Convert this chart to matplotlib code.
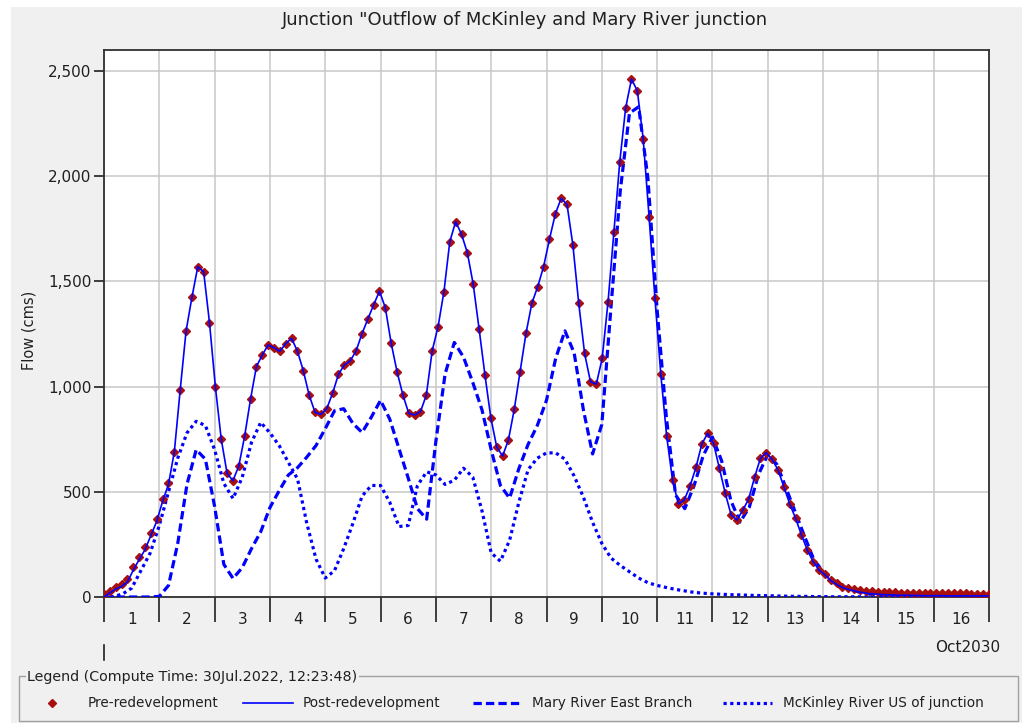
import numpy as np
import matplotlib.pyplot as plt
from matplotlib.lines import Line2D
from matplotlib.patches import Rectangle
from matplotlib.ticker import FuncFormatter, FixedLocator
from matplotlib.transforms import blended_transform_factory

# ── Junction hydrographs, Oct 2030 (flow in cms) ─────────────────────────────
# Pre/post series are stored at a constant step over 16 days
PRE_STEP_DAYS = 16 / 151
pre_flow = [
    15, 30, 49, 60, 84, 144, 192, 236, 303, 369, 464, 540, 688,
    984, 1264, 1424, 1570, 1546, 1304, 1000, 751, 588, 553, 623, 765, 940,
    1095, 1150, 1198,
    1185, 1168, 1204, 1229, 1169, 1076, 960, 878, 868, 895, 968, 1058, 1103,
    1122, 1169, 1250, 1320, 1388, 1454, 1375, 1206, 1071, 960, 873, 865, 881,
    960, 1171, 1285, 1451, 1689, 1784, 1724, 1636, 1486, 1274, 1055, 852, 714,
    670, 746, 892, 1071, 1253, 1396, 1475, 1570, 1700, 1820, 1895, 1866, 1673,
    1396, 1158, 1023, 1012, 1134, 1403, 1736, 2068, 2324, 2462, 2406, 2177,
    1807, 1420, 1060, 765, 556, 442, 461, 528, 616, 727, 778, 730, 612, 493,
    390, 366, 413, 466, 569, 659, 686, 654, 604, 524, 442, 374, 295, 223, 168,
    128, 108, 81, 65, 49,
    42, 36, 32, 29, 27, 25, 24, 23, 22, 21, 21, 20, 20, 19, 19, 18, 18, 18,
    17, 17, 17, 16, 16, 16, 15,
]
post_flow = [
    0, 20, 38, 50, 72, 128, 178, 225, 292, 360, 455, 535, 690,
    984, 1264, 1424, 1570, 1546, 1304, 1000, 751, 588, 553, 623, 765, 940,
    1095, 1150, 1198,
    1185, 1168, 1204, 1229, 1169, 1076, 960, 878, 868, 895, 968, 1058, 1103,
    1122, 1169, 1250, 1320, 1388, 1454, 1375, 1206, 1071, 960, 873, 865, 881,
    960, 1171, 1285, 1451, 1689, 1784, 1724, 1636, 1486, 1274, 1055, 852, 714,
    670, 746, 892, 1071, 1253, 1396, 1475, 1570, 1700, 1820, 1895, 1866, 1673,
    1396, 1158, 1023, 1012, 1134, 1403, 1736, 2068, 2324, 2462, 2406, 2177,
    1807, 1420, 1060, 765, 556, 442, 461, 528, 616, 727, 778, 730, 612, 493,
    390, 366, 413, 466, 569, 659, 686, 654, 604, 524, 442, 374, 295, 223, 168,
    128, 105, 78, 60, 45,
    36, 29, 23, 18, 15, 13, 11, 10, 9, 8, 8, 7, 7, 6, 6, 6, 6, 5, 5, 5, 5,
    5, 5, 5, 5,
]

# Upstream inflows stored every 4 hours
COMP_STEP_DAYS = 1 / 6
mary_flow = [
    0, 0, 0, 0, 0, 0, 3, 55, 255, 535,
    700, 655, 430, 155, 88, 140, 230, 310, 425, 505,
    580, 615, 665, 720, 800, 885, 895, 825, 782, 855,
    935, 845, 705, 565, 420, 370, 740, 1060, 1210, 1140,
    1020, 890, 700, 530, 470, 610, 725, 815, 935, 1135,
    1265, 1160, 890, 680, 820, 1380, 1930, 2300, 2330, 1990,
    1365, 855, 485, 420, 528, 672, 760, 647, 458, 356,
    427, 583, 677, 630, 516, 402, 287, 178, 121, 84,
    55, 35, 22, 14, 9, 6, 4, 3, 2, 2,
    1, 1, 1, 1, 0, 0, 0,
]
mckinley_flow = [
    0, 2, 14, 42, 125, 208, 340, 500, 660, 780,
    835, 815, 700, 540, 468, 570, 735, 830, 780, 720,
    640, 560, 350, 180, 90, 125, 230, 350, 480, 530,
    530, 450, 335, 340, 530, 595, 580, 535, 555, 612,
    570, 410, 210, 170, 270, 450, 605, 660, 685, 685,
    655, 575, 475, 355, 255, 185, 150, 120, 90, 68,
    55, 45, 36, 29, 22, 18, 15, 13, 11, 10,
    8, 7, 6, 5, 4, 3, 3, 2, 2, 1,
    1, 1, 1, 1, 0, 0, 0, 0, 0, 0,
    0, 0, 0, 0, 0, 0, 0,
]

day_labels = [str(d) for d in range(1, 17)]
y_ticks = [0, 500, 1000, 1500, 2000, 2500]

TITLE = 'Junction "Outflow of McKinley and Mary River junction'
LEGEND_TITLE = "Legend (Compute Time: 30Jul.2022, 12:23:48)"
NAMES = ["Pre-redevelopment", "Post-redevelopment",
         "Mary River East Branch", "McKinley River US of junction"]

MARKER_RED = "#a81010"
BLUE = "#0000ff"
PANEL = "#f0f0f0"
TEXT = "#202020"

plt.rcParams["font.family"] = "DejaVu Sans"

W, H = 1027, 725
fig = plt.figure(figsize=(W / 100, H / 100), dpi=100, facecolor="white")
fig.add_artist(Rectangle((11 / W, 1 - 723 / H), (1022 - 11) / W, (723 - 7) / H,
                         transform=fig.transFigure, facecolor=PANEL,
                         edgecolor="none", zorder=-10))

ax = fig.add_axes([104 / W, 1 - 597 / H, (989 - 104) / W, (597 - 50) / H])
ax.set_facecolor("white")

t_pre = np.arange(len(pre_flow)) * PRE_STEP_DAYS
t_post = np.arange(len(post_flow)) * PRE_STEP_DAYS
t_comp = np.arange(len(mary_flow)) * COMP_STEP_DAYS

ax.plot(t_comp, mckinley_flow, color=BLUE, lw=2.3, dashes=(1, 1.1), zorder=3)
ax.plot(t_comp, mary_flow, color=BLUE, lw=2.3, dashes=(2.6, 1.3), zorder=3)
ax.plot(t_pre, pre_flow, ls="none", marker="D", ms=4.3, color=MARKER_RED,
        mec=MARKER_RED, zorder=4)
ax.plot(t_post, post_flow, color=BLUE, lw=1.2, zorder=5)

# ── Axes, ticks and grid ─────────────────────────────────────────────────────
ax.set_xlim(0, 16)
ax.set_ylim(0, 2600)
ax.set_yticks(y_ticks)
ax.yaxis.set_major_formatter(FuncFormatter(lambda v, p: f"{int(v):,}"))
ax.tick_params(axis="y", direction="out", length=7, width=1.2, pad=2,
               labelsize=11, colors=TEXT)

ax.xaxis.set_major_locator(FixedLocator(range(0, 17)))
ax.xaxis.set_minor_locator(FixedLocator(np.arange(0.5, 16, 1)))
ax.set_xticklabels([], minor=False)
ax.set_xticklabels(day_labels, minor=True)
ax.tick_params(axis="x", which="major", direction="out", length=18, width=1.2,
               colors=TEXT)
ax.tick_params(axis="x", which="minor", length=0, pad=11, labelsize=11,
               colors=TEXT)

ax.grid(True, which="major", color="#c8c8c8", lw=1.1)
ax.set_axisbelow(True)
for s in ax.spines.values():
    s.set_color("#303030")
    s.set_linewidth(1.3)

ax.set_ylabel("Flow (cms)", fontsize=10.5, color=TEXT)
ax.yaxis.set_label_coords((37 - 104) / 885, (597 - 330) / 547)

# date level marker below the day labels
trans = blended_transform_factory(ax.transData, fig.transFigure)
fig.add_artist(Line2D([0, 0], [1 - 645 / H, 1 - 660 / H], transform=trans,
                      color=TEXT, lw=1.2))
fig.text(968 / W, 1 - 647 / H, "Oct2030", ha="center", va="center",
         fontsize=11, color=TEXT)

fig.text(525 / W, 1 - 20 / H, TITLE, ha="center", va="center",
         fontsize=13, color=TEXT)

# ── Legend panel ─────────────────────────────────────────────────────────────
fig.add_artist(Rectangle((19 / W, 1 - 721 / H), (1018 - 19) / W, (721 - 676) / H,
                         transform=fig.transFigure, facecolor="none",
                         edgecolor="#a0a0a0", lw=1.0))
fig.text(27 / W, 1 - 677 / H, LEGEND_TITLE, ha="left", va="center",
         fontsize=10.3, color=TEXT,
         bbox=dict(facecolor=PANEL, edgecolor="none", pad=1))

ly = 1 - 703 / H
fig.add_artist(Line2D([52 / W], [ly], transform=fig.transFigure, ls="none",
                      marker="D", ms=4.3, color=MARKER_RED))
fig.add_artist(Line2D([243 / W, 293 / W], [ly, ly], transform=fig.transFigure,
                      color=BLUE, lw=1.2))
fig.add_artist(Line2D([473 / W, 521 / W], [ly, ly], transform=fig.transFigure,
                      color=BLUE, lw=2.3, dashes=(2.6, 1.3)))
fig.add_artist(Line2D([723 / W, 772 / W], [ly, ly], transform=fig.transFigure,
                      color=BLUE, lw=2.3, dashes=(1, 1.1)))
for x0, name in zip([88, 303, 532, 783], NAMES):
    fig.text(x0 / W, ly, name, ha="left", va="center", fontsize=9.8,
             color=TEXT)

fig.savefig("out.png", dpi=100, facecolor=fig.get_facecolor())
